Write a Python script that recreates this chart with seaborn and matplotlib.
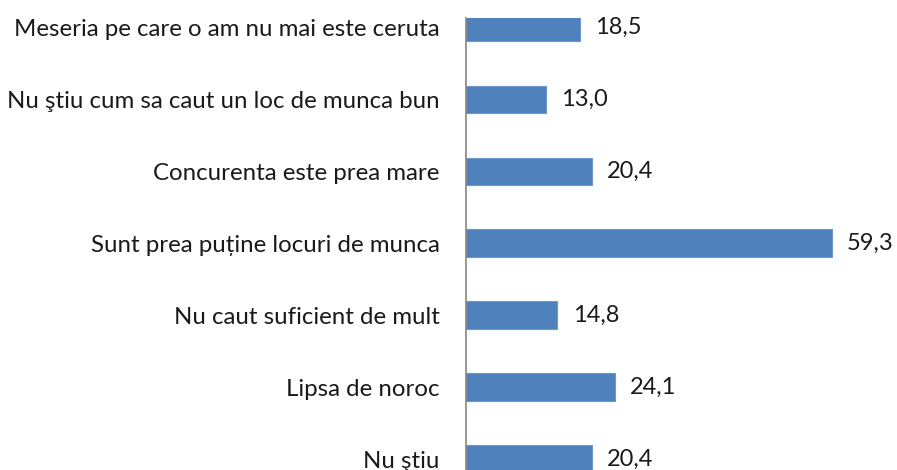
"""Horizontal bar chart: reasons for not finding a job (percent of respondents)."""
import matplotlib.pyplot as plt
import pandas as pd
import seaborn as sns

CATEGORIES = [
    "Meseria pe care o am nu mai este ceruta",
    "Nu ştiu cum sa caut un loc de munca bun",
    "Concurenta este prea mare",
    "Sunt prea puține locuri de munca",
    "Nu caut suficient de mult",
    "Lipsa de noroc",
    "Nu ştiu",
]
VALUES = [18.5, 13.0, 20.4, 59.3, 14.8, 24.1, 20.4]

BAR_COLOR = "#4F81BD"
AXIS_COLOR = "#868686"
W, H = 897, 470

sns.set_style("white")
plt.rcParams["font.family"] = ["Lato", "DejaVu Sans"]

df = pd.DataFrame({"reason": CATEGORIES, "pct": VALUES})

fig = plt.figure(figsize=(W / 100, H / 100), dpi=100)
# axes placed in pixels; the chart is cropped at top and bottom like the source
left_px, top_px = 466, 18
ax = fig.add_axes([left_px / W, 0, (W - left_px) / W, (H - top_px) / H])

sns.barplot(data=df, x="pct", y="reason", color=BAR_COLOR, width=0.385,
            edgecolor="#6d97c9", linewidth=0.8, saturation=1, ax=ax)

ax.set_xlim(0, (W - left_px) / 6.17)
ax.set_ylim(6.153, -0.134)

labels = [f"{v:.1f}".replace(".", ",") for v in VALUES]
ax.bar_label(ax.containers[0], labels=labels, padding=11, fontsize=17, color="#1a1a1a")

for side in ["top", "right", "bottom"]:
    ax.spines[side].set_visible(False)
ax.spines["left"].set_color(AXIS_COLOR)
ax.spines["left"].set_linewidth(1.2)

ax.set_xticks([])
ax.set_xlabel("")
ax.set_ylabel("")
ax.tick_params(axis="y", which="major", length=0, pad=19, labelsize=17.3, labelcolor="#1a1a1a")
ax.set_yticks([i + 0.5 for i in range(len(CATEGORIES) - 1)], minor=True)
ax.tick_params(axis="y", which="minor", length=5, width=1, color=AXIS_COLOR, direction="out")

fig.savefig("out.png", dpi=100)
